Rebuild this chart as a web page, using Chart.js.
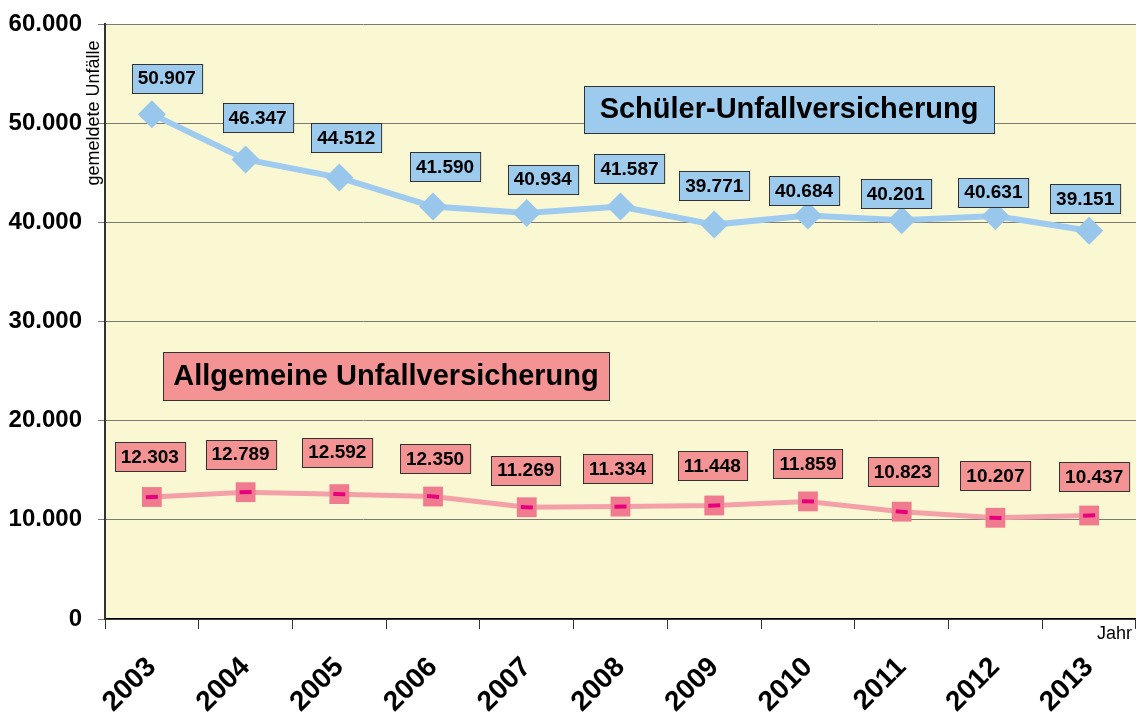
<!DOCTYPE html>
<html>
<head>
<meta charset="utf-8">
<script src="https://cdn.jsdelivr.net/npm/chart.js@4"></script>
<style>
  body { margin: 0; background: #fff; }
  canvas { display: block; }
</style>
</head>
<body>
<canvas id="grafico" width="1136" height="717"></canvas>
<script>
const jahre = ['2003', '2004', '2005', '2006', '2007', '2008', '2009', '2010', '2011', '2012', '2013'];
const schueler = [50907, 46347, 44512, 41590, 40934, 41587, 39771, 40684, 40201, 40631, 39151];
const allgemeine = [12303, 12789, 12592, 12350, 11269, 11334, 11448, 11859, 10823, 10207, 10437];
const yTicks = [0, 10000, 20000, 30000, 40000, 50000, 60000];

// Versatz der Wertekästchen zum Punkt (px), wie im Original von Hand verschoben
const schuelerDx = [15, 12, 7, 12, 16, 9, 0, -4, -6, -2, -4];
const schuelerDy = [-36, -42, -40, -40, -34, -38, -39, -25, -27, -24, -32];
const allgDx = [-2, -5, -2, 2, -1, -3, -2, 0, 1, 0, 5];
const allgDy = [-40, -38, -42, -38, -37, -38, -40, -38, -40, -42, -39];

const FONT = "'Liberation Sans', Arial, sans-serif";
const BLAU = '#9ccbee';
const ROSA = '#f49394';

function tausender(v) {
    return String(Math.round(v)).replace(/\B(?=(\d{3})+(?!\d))/g, '.');
}

function kasten(ctx, text, cx, cy, fill, size, w, h) {
    ctx.font = 'bold ' + size + 'px ' + FONT;
    if (!w) w = ctx.measureText(text).width + 12;
    const x = Math.round(cx - w / 2) + 0.5;
    const y = Math.round(cy - h / 2) + 0.5;
    ctx.fillStyle = fill;
    ctx.fillRect(x, y, w, h);
    ctx.strokeStyle = '#333';
    ctx.lineWidth = 1;
    ctx.strokeRect(x, y, w, h);
    ctx.fillStyle = '#000';
    ctx.textAlign = 'center';
    ctx.textBaseline = 'middle';
    ctx.fillText(text, cx, cy + 1);
}

const hintergrund = {
    id: 'hintergrund',
    beforeDraw(chart) {
        const a = chart.chartArea;
        const ctx = chart.ctx;
        ctx.save();
        ctx.fillStyle = '#faf7d3';
        ctx.fillRect(a.left, a.top, a.right - a.left, a.bottom - a.top);
        ctx.restore();
    }
};

const beschriftung = {
    id: 'beschriftung',
    afterDatasetsDraw(chart) {
        const ctx = chart.ctx;
        const a = chart.chartArea;
        ctx.save();

        // magentafarbene Striche in den Quadraten
        const pa = chart.getDatasetMeta(1).data;
        ctx.strokeStyle = '#e6007e';
        ctx.lineWidth = 4;
        ctx.lineCap = 'butt';
        pa.forEach((p, i) => {
            const q = pa[Math.min(i + 1, pa.length - 1)];
            const r = pa[Math.max(i - 1, 0)];
            const ang = Math.atan2(q.y - r.y, q.x - r.x);
            ctx.beginPath();
            ctx.moveTo(p.x - 6 * Math.cos(ang), p.y - 6 * Math.sin(ang));
            ctx.lineTo(p.x + 6 * Math.cos(ang), p.y + 6 * Math.sin(ang));
            ctx.stroke();
        });

        chart.getDatasetMeta(0).data.forEach((p, i) => {
            kasten(ctx, tausender(schueler[i]), p.x + schuelerDx[i], p.y + schuelerDy[i], BLAU, 19, 0, 29);
        });
        pa.forEach((p, i) => {
            kasten(ctx, tausender(allgemeine[i]), p.x + allgDx[i], p.y + allgDy[i], ROSA, 19, 0, 29);
        });

        // Reihentitel
        kasten(ctx, 'Schüler-Unfallversicherung', a.left + 684, a.top + 85, BLAU, 29, 410, 47);
        kasten(ctx, 'Allgemeine Unfallversicherung', a.left + 281, a.top + 352, ROSA, 29, 446, 48);

        // Achsentitel
        ctx.fillStyle = '#000';
        ctx.font = '18px ' + FONT;
        ctx.textAlign = 'center';
        ctx.textBaseline = 'middle';
        ctx.save();
        ctx.translate(a.left - 11, a.top + 89);
        ctx.rotate(-Math.PI / 2);
        ctx.fillText('gemeldete Unfälle', 0, 0);
        ctx.restore();
        ctx.textAlign = 'right';
        ctx.fillText('Jahr', 1132, a.bottom + 15);
        ctx.restore();
    }
};

new Chart(document.getElementById('grafico'), {
    type: 'line',
    data: {
        labels: jahre,
        datasets: [{
            label: 'Schüler-Unfallversicherung',
            data: schueler,
            borderColor: '#9ecbef',
            backgroundColor: '#99c7ec',
            borderWidth: 6,
            pointStyle: 'rectRot',
            pointRadius: 14,
            pointBorderWidth: 0,
            tension: 0
        }, {
            label: 'Allgemeine Unfallversicherung',
            data: allgemeine,
            borderColor: '#f4a0a8',
            backgroundColor: '#f07b8f',
            borderWidth: 5,
            pointStyle: 'rect',
            pointRadius: 14,
            pointBorderWidth: 0,
            tension: 0
        }]
    },
    options: {
        responsive: false,
        animation: false,
        layout: { autoPadding: false, padding: { top: 24, right: 0, left: 0, bottom: 0 } },
        plugins: {
            legend: { display: false },
            tooltip: { enabled: false }
        },
        scales: {
            x: {
                offset: true,
                grid: { offset: true, drawOnChartArea: false, color: '#333', tickLength: 10 },
                border: { color: '#000', width: 1.5 },
                ticks: {
                    minRotation: 45,
                    maxRotation: 45,
                    color: '#000',
                    padding: 22,
                    font: { family: FONT, size: 28, weight: 'bold' }
                },
                afterFit(scale) {
                    scale.height = 98;
                    scale.paddingLeft = 0;
                    scale.paddingRight = 0;
                }
            },
            y: {
                min: 0,
                max: 60000,
                afterBuildTicks(scale) { scale.ticks = yTicks.map(v => ({ value: v })); },
                grid: { color: '#7a7a70', lineWidth: 1, tickLength: 7 },
                border: { color: '#333', width: 2 },
                ticks: {
                    color: '#000',
                    padding: 16,
                    font: { family: FONT, size: 24, weight: 'bold' },
                    callback: v => tausender(v)
                },
                afterFit(scale) {
                    scale.width = 105;
                    scale.paddingTop = 0;
                    scale.paddingBottom = 0;
                }
            }
        }
    },
    plugins: [hintergrund, beschriftung]
});
</script>
</body>
</html>
